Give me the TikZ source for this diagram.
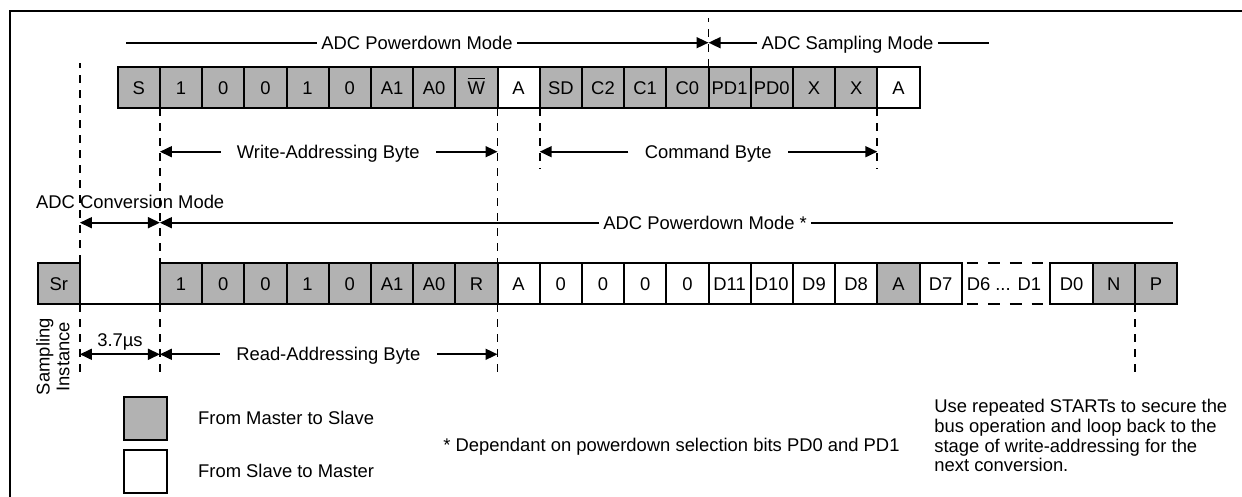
\documentclass[tikz,border=0pt]{standalone}
\usepackage{fontspec}
\setmainfont{Liberation Sans}
\usetikzlibrary{positioning,arrows.meta}

\begin{document}
\begin{tikzpicture}[x=0.5pt, y=-0.5pt, node distance=0pt,
	font=\fontsize{9.2}{9.9}\selectfont,
	>={Triangle[length=6pt,width=5.5pt]},
	cell/.style={draw, line width=1pt, outer sep=0pt, inner sep=0pt, minimum width=21.1pt, minimum height=20.8pt, text height=6.6pt, text depth=0pt},
	ms/.style={cell, fill=black!30},
	sm/.style={cell, fill=white},
	bytelbl/.style={inner xsep=8pt, inner ysep=0pt, text height=6.6pt, text depth=0pt},
	modelbl/.style={inner xsep=2pt, inner ysep=0pt, text height=6.6pt, text depth=0pt},
	lbl/.style={inner sep=0pt, text height=6.6pt, text depth=0pt},
	note/.style={inner sep=0pt, align=left},
	span/.style={line width=0.85pt},
	guide/.style={line width=0.85pt, dash pattern=on 4pt off 3.5pt},
	figframe/.style={line width=1pt}]

	\useasboundingbox (0,0) rectangle (1242,497);
	\draw[figframe] (10,497) -- (10,11) -- (1242,11);

	%% Write-addressing and command bytes
	\node[ms] (wr_s) at (138.8,87.5) {S};
	\node[ms] (wr_6) [right =of wr_s] {1};
	\node[ms] (wr_5) [right =of wr_6] {0};
	\node[ms] (wr_4) [right =of wr_5] {0};
	\node[ms] (wr_3) [right =of wr_4] {1};
	\node[ms] (wr_2) [right =of wr_3] {0};
	\node[ms] (wr_1) [right =of wr_2] {A1};
	\node[ms] (wr_0) [right =of wr_1] {A0};
	\node[ms] (wr_w) [right =of wr_0] {$\overline{\hbox{W}}$};
	\node[sm] (wr_ack) [right =of wr_w] {A};
	\node[ms] (cmd_7) [right =of wr_ack] {SD};
	\node[ms] (cmd_6) [right =of cmd_7] {C2};
	\node[ms] (cmd_5) [right =of cmd_6] {C1};
	\node[ms] (cmd_4) [right =of cmd_5] {C0};
	\node[ms] (cmd_3) [right =of cmd_4] {PD1};
	\node[ms] (cmd_2) [right =of cmd_3] {PD0};
	\node[ms] (cmd_1) [right =of cmd_2] {X};
	\node[ms] (cmd_0) [right =of cmd_1] {X};
	\node[sm] (cmd_ack) [right =of cmd_0] {A};

	%% Read-addressing and data bytes
	\node[ms] (rd_6) [below = 77.2pt of wr_6] {1};
	\node[ms] (rd_sr) [left = 40pt of rd_6] {Sr};
	\node[ms] (rd_5) [right =of rd_6] {0};
	\node[ms] (rd_4) [right =of rd_5] {0};
	\node[ms] (rd_3) [right =of rd_4] {1};
	\node[ms] (rd_2) [right =of rd_3] {0};
	\node[ms] (rd_1) [right =of rd_2] {A1};
	\node[ms] (rd_0) [right =of rd_1] {A0};
	\node[ms] (rd_r) [right =of rd_0] {R};
	\node[sm] (rd_ack) [right =of rd_r] {A};
	\node[sm] (hi_7) [right =of rd_ack] {0};
	\node[sm] (hi_6) [right =of hi_7] {0};
	\node[sm] (hi_5) [right =of hi_6] {0};
	\node[sm] (hi_4) [right =of hi_5] {0};
	\node[sm] (hi_3) [right =of hi_4] {D11};
	\node[sm] (hi_2) [right =of hi_3] {D10};
	\node[sm] (hi_1) [right =of hi_2] {D9};
	\node[sm] (hi_0) [right =of hi_1] {D8};
	\node[ms] (hi_ack) [right =of hi_0] {A};
	\node[sm] (lo_7) [right =of hi_ack] {D7};
	\node[cell, draw=none, minimum width=42.2pt] (lo_mid) [right =of lo_7] {D6 ... D1};
	\node[sm] (lo_0) [right = 2.15pt of lo_mid] {D0};
	\node[ms] (rd_nak) [right =of lo_0] {N};
	\node[ms] (rd_p) [right =of rd_nak] {P};

	\draw[line width=1pt] (rd_sr.south east) -- (rd_6.south west);
	\draw[line width=1pt, dash pattern=on 5.8pt off 5pt, dash phase=8.3pt] (lo_mid.north west) -- (lo_mid.north east);
	\draw[line width=1pt, dash pattern=on 5.8pt off 5pt, dash phase=8.3pt] (lo_mid.south west) -- (lo_mid.south east);

	%% Guides
	\coordinate (g_mode) at (0,18);
	\coordinate (g_hi) at (0,63);
	\coordinate (g_cmd) at (0,169);
	\coordinate (g_lo) at (0,376.7);

	\draw[guide] (rd_sr.north east) -- (rd_sr.north east |- g_hi);
	\draw[guide] (rd_sr.south east) -- (rd_sr.south east |- g_lo);
	\draw[guide] (wr_6.south west) -- (rd_6.north west);
	\draw[guide] (rd_6.south west) -- (rd_6.south west |- g_lo);
	\draw[guide] (wr_ack.south west) -- (rd_ack.north west);
	\draw[guide] (rd_ack.south west) -- (rd_ack.south west |- g_lo);
	\draw[guide] (cmd_7.south west) -- (cmd_7.south west |- g_cmd);
	\draw[guide] (cmd_ack.south west) -- (cmd_ack.south west |- g_cmd);
	\draw[guide] (cmd_3.north west) -- (cmd_3.north west |- g_mode);
	\draw[guide] (rd_p.south west) -- (rd_p.south west |- g_lo);

	%% Modes
	\node[modelbl] (pd_top) at (417,42.7) {ADC Powerdown Mode};
	\node[modelbl] (sm_top) at (847.6,42.7) {ADC Sampling Mode};
	\coordinate (pd_l) at (126,42.7);
	\coordinate (sm_r) at (989,42.7);
	\draw[span] (pd_top.west) -- (pd_l);
	\draw[span,->] (pd_top.east) -- (pd_top.east -| cmd_3.north west);
	\draw[span,->] (sm_top.west) -- (sm_top.west -| cmd_3.north west);
	\draw[span] (sm_top.east) -- (sm_r);

	\node[lbl, anchor=west] (conv) at (35.7,201.7) {ADC Conversion Mode};
	\node[modelbl, anchor=west] (pd_star) at (599,222.7) {ADC Powerdown Mode *};
	\coordinate (pds_r) at (1172.5,222.7);
	\draw[span,<->] (pd_star.west -| rd_sr.north east) -- (pd_star.west -| rd_6.north west);
	\draw[span,->] (pd_star.west) -- (pd_star.west -| rd_6.north west);
	\draw[span] (pd_star.east) -- (pds_r);

	%% Bytes
	\node[bytelbl] (wab) at (328.3,151.7) {Write-Addressing Byte};
	\draw[span,->] (wab.west) -- (wab.west -| wr_6.south west);
	\draw[span,->] (wab.east) -- (wab.east -| wr_ack.south west);

	\node[bytelbl] (cb) at (708.2,151.7) {Command Byte};
	\draw[span,->] (cb.west) -- (cb.west -| cmd_7.south west);
	\draw[span,->] (cb.east) -- (cb.east -| cmd_ack.south west);

	\node[bytelbl] (rab) at (328.3,354.3) {Read-Addressing Byte};
	\draw[span,->] (rab.west) -- (rab.west -| rd_6.south west);
	\draw[span,->] (rab.east) -- (rab.east -| rd_ack.south west);

	\node[lbl] (t37) at (120,340) {3.7µs};
	\draw[span,<->] (rab.west -| rd_sr.south east) -- (rab.west -| rd_6.south west);

	\node[note, rotate=90, align=center] (samp) at (53,356.7) {Sampling\\Instance};

	%% Legend and notes
	\node[ms, minimum height=21.6pt] (lg_ms) at (145.5,418.3) {};
	\node[sm, minimum height=21.6pt] (lg_sm) at (145.5,471.3) {};
	\node[lbl] (lg_ms_t) [right = 15.6pt of lg_ms] {From Master to Slave};
	\node[lbl] (lg_sm_t) [right = 15.6pt of lg_sm] {From Slave to Master};

	\node[lbl, anchor=west] (dep) at (443,445) {* Dependant on powerdown selection bits PD0 and PD1};
	\node[note, anchor=west] (rpt) at (934,435.7) {Use repeated STARTs to secure the\\bus operation and loop back to the\\stage of write-addressing for the\\next conversion.};

\end{tikzpicture}
\end{document}
